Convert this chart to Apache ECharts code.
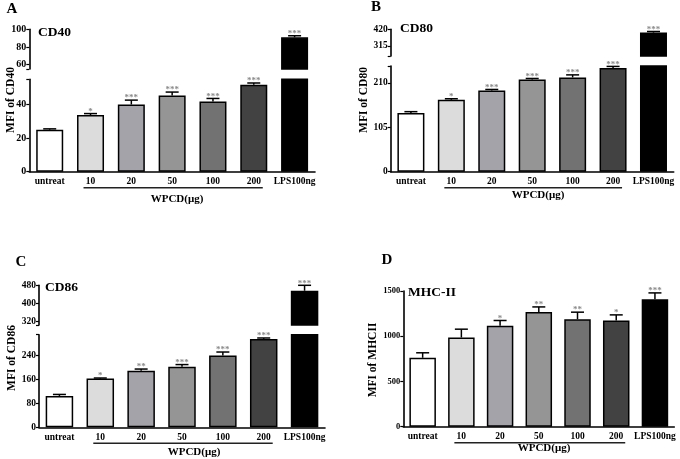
<!DOCTYPE html>
<html><head><meta charset="utf-8">
<script src="https://cdn.jsdelivr.net/npm/echarts@6/dist/echarts.min.js"></script>
<style>html,body{margin:0;padding:0;background:#fff}#c{width:680px;height:459px}</style>
</head><body><div id="c"></div>
<script>
// ---- data ----
const categories = ['untreat', '10', '20', '50', '100', '200', 'LPS100ng'];
const groupLabel = 'WPCD(μg)';

const cd40 = [25, 33.7, 40, 45.4, 41.8, 51.8, 90.9];
const cd40Err = [0.5, 0.9, 2.6, 2.0, 1.8, 1.0, 1.8];
const cd40Sig = ['', '*', '***', '***', '***', '***', '***'];

const cd80 = [139, 170, 192, 218, 223, 245, 399];
const cd80Err = [3, 2.5, 2.5, 2.5, 6, 4, 7];
const cd80Sig = ['', '*', '***', '***', '***', '***', '***'];

const cd86 = [105, 163, 189, 203, 240, 296, 456];
const cd86Err = [5, 2, 6, 7, 12, 3, 24];
const cd86Sig = ['', '*', '**', '***', '***', '***', '***'];

const mhc = [762, 986, 1115, 1269, 1188, 1174, 1409];
const mhcErr = [55, 92, 59, 55, 78, 62, 70];
const mhcSig = ['', '', '*', '**', '**', '*', '***'];

// axis ticks / labels
const cd40LowTicks = [0, 20, 40, 55], cd40LowLabels = [0, 20, 40];
const cd40UpTicks = [55, 60, 80, 100], cd40UpLabels = [60, 80, 100];
const cd80LowTicks = [0, 105, 210, 250], cd80LowLabels = [0, 105, 210];
const cd80UpTicks = [250, 315, 420], cd80UpLabels = [315, 420];
const cd86LowTicks = [0, 80, 160, 240, 310], cd86LowLabels = [0, 80, 160, 240];
const cd86UpTicks = [305, 320, 400, 480], cd86UpLabels = [320, 400, 480];
const mhcTicks = [0, 500, 1000, 1500], mhcLabels = [0, 500, 1000, 1500];

// ---- style ----
const barColors = ['#ffffff', '#dcdcdc', '#a4a3aa', '#959595', '#727272', '#424242', '#000000'];
const FONT = 'Liberation Serif';

const panels = [
  { letter: 'A', name: 'CD40', yName: 'MFI of CD40', values: cd40, err: cd40Err, sig: cd40Sig,
    segs: [
      { min: 0, max: 55, ticks: cd40LowTicks, labels: cd40LowLabels, left: 29.3, top: 79.3, width: 285.7, height: 92.4, lower: true },
      { min: 55, max: 100, ticks: cd40UpTicks, labels: cd40UpLabels, left: 29.3, top: 29.3, width: 285.7, height: 39.7 }
    ],
    barWidth: 27, tickFont: 10,
    letterPos: [12, 9], namePos: [38, 33], yNamePos: [11.5, 100], groupPos: [177, 199] },
  { letter: 'B', name: 'CD80', yName: 'MFI of CD80', values: cd80, err: cd80Err, sig: cd80Sig,
    segs: [
      { min: 0, max: 250, ticks: cd80LowTicks, labels: cd80LowLabels, left: 390.7, top: 66, width: 283, height: 105.7, lower: true },
      { min: 250, max: 420, ticks: cd80UpTicks, labels: cd80UpLabels, left: 390.7, top: 29.3, width: 283, height: 26.7 }
    ],
    barWidth: 27, tickFont: 9.5,
    letterPos: [376, 7], namePos: [400, 29], yNamePos: [364, 100], groupPos: [538, 195] },
  { letter: 'C', name: 'CD86', yName: 'MFI of CD86', values: cd86, err: cd86Err, sig: cd86Sig,
    segs: [
      { min: 0, max: 310, ticks: cd86LowTicks, labels: cd86LowLabels, left: 39, top: 334.7, width: 286, height: 92.6, lower: true },
      { min: 305, max: 480, ticks: cd86UpTicks, labels: cd86UpLabels, left: 39, top: 285.3, width: 286, height: 39.7 }
    ],
    barWidth: 27.5, tickFont: 9.5,
    letterPos: [21, 262.5], namePos: [45, 288], yNamePos: [12.5, 358], groupPos: [194, 452] },
  { letter: 'D', name: 'MHC-II', yName: 'MFI of MHCII', values: mhc, err: mhcErr, sig: mhcSig,
    segs: [
      { min: 0, max: 1500, ticks: mhcTicks, labels: mhcLabels, left: 403.3, top: 291, width: 271, height: 135.7, lower: true, single: true }
    ],
    barWidth: 26.5, tickFont: 8.5,
    letterPos: [387, 260], namePos: [408, 292.5], yNamePos: [373, 360], groupPos: [544, 448] }
];

const grid = [], xAxis = [], yAxis = [], series = [], lowerAxisIdx = [];

function makeErr(sig) {
  return function (params, api) {
    const i = api.value(0), v = api.value(1), e = api.value(2);
    const p0 = api.coord([i, v]);
    const p1 = api.coord([i, v + e]);
    const capHalf = 6.5;
    const children = [
      { type: 'line', shape: { x1: p0[0], y1: p0[1], x2: p1[0], y2: p1[1] }, style: { stroke: '#000', lineWidth: 1.5 } },
      { type: 'line', shape: { x1: p1[0] - capHalf, y1: p1[1], x2: p1[0] + capHalf, y2: p1[1] }, style: { stroke: '#000', lineWidth: 1.5 } }
    ];
    if (sig[i]) {
      children.push({ type: 'text', x: p1[0], y: p1[1] + 2.5,
        style: { text: sig[i], fill: '#8a8a8a', fontSize: 9, fontFamily: FONT, fontWeight: 'bold', align: 'center', verticalAlign: 'bottom' } });
    }
    return { type: 'group', children };
  };
}

panels.forEach(p => {
  p.segs.forEach(s => {
    const gi = grid.length;
    grid.push({ left: s.left, top: s.top, width: s.width, height: s.height, containLabel: false });
    xAxis.push({
      type: 'category', gridIndex: gi, data: categories, show: !!s.lower,
      axisLine: { lineStyle: { color: '#000', width: 1.6 } },
      axisTick: { alignWithLabel: true, length: 3, lineStyle: { color: '#000', width: 1.2 } },
      axisLabel: { color: '#000', fontFamily: FONT, fontWeight: 'bold', fontSize: 9.5, margin: 5, interval: 0 }
    });
    if (s.lower) lowerAxisIdx.push({ idx: gi, panel: p, seg: s });
    yAxis.push({
      type: 'value', gridIndex: gi, min: s.min, max: s.max,
      splitLine: { show: false },
      axisLine: { show: true, lineStyle: { color: '#000', width: 1.6 } },
      axisTick: { show: true, length: 3, customValues: s.ticks, lineStyle: { color: '#000', width: 1.2 } },
      axisLabel: { customValues: s.labels, color: '#000', fontFamily: FONT, fontWeight: 'bold', fontSize: p.tickFont, margin: 3,
        formatter: v => String(v) }
    });
    const inSeg = v => s.lower ? (v >= s.min) : (v > s.min && v <= s.max);
    series.push({
      type: 'bar', xAxisIndex: gi, yAxisIndex: gi, barWidth: p.barWidth, clip: true, silent: true,
      data: p.values.map((v, i) => ({
        value: inSeg(v) ? v : '-',
        itemStyle: { color: barColors[i], borderColor: '#000', borderWidth: 1.5 }
      }))
    });
    const errData = [];
    p.values.forEach((v, i) => {
      const ok = s.lower ? (v <= s.max) : (v > s.min && v <= s.max);
      if (ok) errData.push([i, v, p.err[i]]);
    });
    series.push({
      type: 'custom', xAxisIndex: gi, yAxisIndex: gi, clip: false, silent: true, z: 5,
      renderItem: makeErr(p.sig), data: errData
    });
  });
});

const chart = echarts.init(document.getElementById('c'));
chart.setOption({
  animation: false,
  backgroundColor: '#fff',
  grid, xAxis, yAxis, series
});

const txt = (x, y, text, size, extra) => Object.assign({
  type: 'text', x, y, silent: true,
  style: Object.assign({ text, fill: '#000', fontFamily: FONT, fontWeight: 'bold', fontSize: size, align: 'center', verticalAlign: 'middle' }, extra || {})
});
const graphic = [];
lowerAxisIdx.forEach(({ idx, panel: p, seg: s }) => {
  graphic.push(txt(p.letterPos[0], p.letterPos[1], p.letter, 15));
  graphic.push(txt(p.namePos[0], p.namePos[1], p.name, 13.5, { align: 'left' }));
  const yn = txt(p.yNamePos[0], p.yNamePos[1], p.yName, 11.5);
  yn.rotation = Math.PI / 2;
  graphic.push(yn);
  graphic.push(txt(p.groupPos[0], p.groupPos[1], groupLabel, 11));
  const x1 = chart.convertToPixel({ xAxisIndex: idx }, categories[1]);
  const x2 = chart.convertToPixel({ xAxisIndex: idx }, categories[5]);
  const yb = s.top + s.height + 16;
  graphic.push({ type: 'line', silent: true, shape: { x1: x1 - 7, y1: yb, x2: x2 + 9, y2: yb }, style: { stroke: '#222', lineWidth: 1.5 } });
});
chart.setOption({ graphic });
</script>
</body></html>
